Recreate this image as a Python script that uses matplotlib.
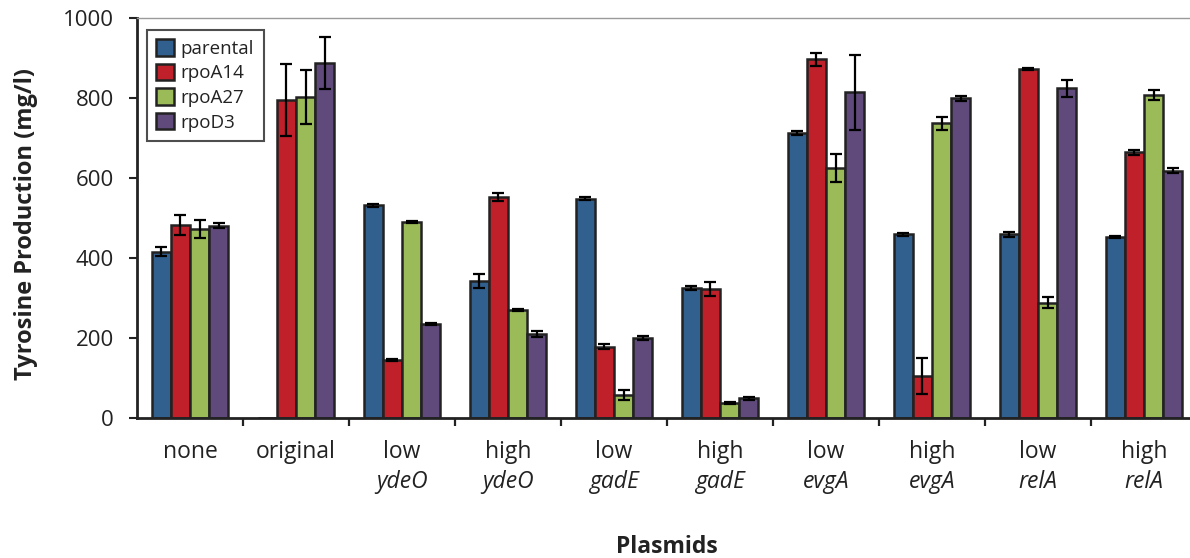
import matplotlib
matplotlib.use("Agg")
import matplotlib.pyplot as plt
import numpy as np

# Plasmid groups (first line) and the gene carried (second line, italic)
plasmid_level = ["none", "original", "low", "high", "low", "high", "low", "high", "low", "high"]
plasmid_gene = ["", "", "ydeO", "ydeO", "gadE", "gadE", "evgA", "evgA", "relA", "relA"]

strains = ["parental", "rpoA14", "rpoA27", "rpoD3"]

parental = [416, 0, 532, 343, 548, 324, 712, 459, 459, 453]
parental_err = [11, 0, 4, 17, 4, 5, 5, 3, 7, 3]

rpoA14 = [483, 795, 145, 553, 178, 322, 897, 105, 873, 664]
rpoA14_err = [25, 90, 3, 10, 6, 17, 16, 45, 3, 6]

rpoA27 = [473, 803, 490, 270, 57, 38, 626, 737, 288, 808]
rpoA27_err = [23, 67, 3, 3, 12, 3, 35, 16, 14, 12]

rpoD3 = [481, 888, 235, 210, 199, 49, 814, 799, 824, 618]
rpoD3_err = [7, 65, 3, 7, 5, 3, 94, 7, 21, 6]

colors = ["#31608F", "#C0202A", "#9BBB59", "#604A7B"]
text_color = "#222222"

plt.rcParams["font.family"] = ["Open Sans", "DejaVu Sans"]

fig = plt.figure(figsize=(11.9, 5.58), dpi=100)
ax = fig.add_axes([137 / 1190, 1 - 418 / 558, 1060 / 1190, 400 / 558])

x = np.arange(len(plasmid_level))
width = 0.18
series = [(parental, parental_err), (rpoA14, rpoA14_err), (rpoA27, rpoA27_err), (rpoD3, rpoD3_err)]
for i, ((vals, errs), name, col) in enumerate(zip(series, strains, colors)):
    pos = x + (i - 1.5) * width
    vals = np.array(vals, dtype=float)
    errs = np.array(errs, dtype=float)
    mask = vals > 0
    ax.bar(pos, vals, width=width, color=col, edgecolor="#222222", linewidth=1.8,
           label=name, zorder=2)
    ax.errorbar(pos[mask], vals[mask], yerr=errs[mask], fmt="none", ecolor="black",
                elinewidth=1.6, capsize=4.5, capthick=1.6, zorder=3)

ax.set_xlim(-0.5, 9.5)
ax.set_ylim(0, 1000)
ax.set_yticks([0, 200, 400, 600, 800, 1000])
ax.tick_params(axis="y", direction="out", length=5.8, width=1.5, labelsize=16,
               colors=text_color, pad=11)

# Category labels at group centres, tick marks between groups
ax.set_xticks(x)
ax.set_xticklabels(plasmid_level)
ax.tick_params(axis="x", which="major", length=0, pad=16, labelsize=16.5, colors=text_color)
ax.set_xticks(np.arange(0.5, 9.5, 1.0), minor=True)
ax.tick_params(axis="x", which="minor", direction="out", length=5.8, width=1.6, color=text_color)

for xi, gene in zip(x, plasmid_gene):
    if gene:
        ax.text(xi, (418 - 488) / 400, gene, transform=ax.get_xaxis_transform(), ha="center",
                va="baseline", fontsize=16.5, style="italic", color=text_color)

for side in ["left", "bottom"]:
    ax.spines[side].set_linewidth(2)
    ax.spines[side].set_color(text_color)
ax.spines["top"].set_color("#9a9a9a")
ax.spines["top"].set_linewidth(1)
ax.spines["right"].set_visible(False)

ax.set_ylabel("Tyrosine Production (mg/l)", fontsize=17, fontweight="bold", color=text_color)
ax.yaxis.set_label_coords((38 - 137) / 1060, (418 - 223.5) / 400)

ax.text(0.5, (418 - 553) / 400, "Plasmids", transform=ax.transAxes, ha="center",
        va="baseline", fontsize=16.5, fontweight="bold", color=text_color)

leg = ax.legend(loc="upper left", bbox_to_anchor=(10 / 1060, (418 - 30) / 400), fontsize=13.5,
                frameon=True, fancybox=False, handlelength=0.95, handleheight=0.95,
                labelspacing=0.32, handletextpad=0.35, borderpad=0.5, borderaxespad=0)
leg.get_frame().set_edgecolor("#222222")
leg.get_frame().set_linewidth(1.5)
for t in leg.get_texts():
    t.set_color(text_color)

fig.savefig("out.png", dpi=100)
